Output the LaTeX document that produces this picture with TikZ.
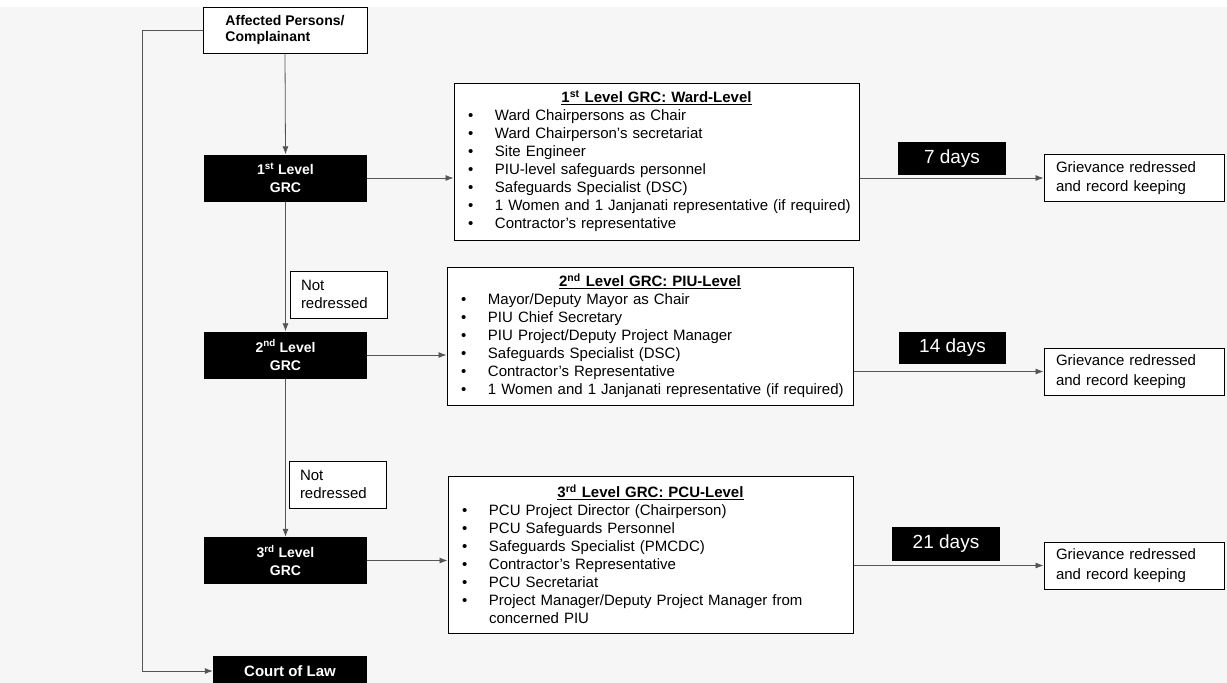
\documentclass[tikz,border=0pt]{standalone}
\usepackage{fontspec}
\setmainfont{Liberation Sans}
\usetikzlibrary{arrows.meta}
\definecolor{bggray}{HTML}{F6F6F6}
\definecolor{linegray}{HTML}{555555}
% one bullet line of a committee list
\newcommand{\itm}[1]{{\hyphenpenalty=10000\hangindent=34.5pt\hangafter=1\noindent\makebox[34.5pt][l]{\hspace{7.5pt}\textbullet}#1\par}}
\newcommand{\ttl}[1]{\makebox[\linewidth][c]{\bfseries\underline{#1}}\par}
\tikzset{
  whitebox/.style={draw=black, line width=1pt, fill=white, inner sep=0pt},
  grcbox/.style={fill=black, text=white, minimum width=163pt, minimum height=47pt,
    align=center, font=\fontsize{14}{18}\selectfont\bfseries},
  daybox/.style={fill=black, text=white, minimum width=108pt, minimum height=33pt,
    font=\fontsize{19}{22}\selectfont},
  listbox/.style={whitebox, inner xsep=6.5pt, align=left,
    font=\fontsize{15}{18}\selectfont},
  notebox/.style={whitebox, inner xsep=11pt, text width=75pt, minimum height=47pt,
    align=left, font=\fontsize{15}{17.5}\selectfont},
  donebox/.style={whitebox, inner xsep=12pt, text width=156pt, minimum height=47pt,
    align=left, font=\fontsize{15}{19.5}\selectfont},
  link/.style={draw=linegray, line width=0.8pt, -{Latex[length=8pt,width=6pt]}}
}
\begin{document}
\begin{tikzpicture}[x=1pt,y=-1pt]
  \fill[white] (0,0) rectangle (1227,683);
  \useasboundingbox (0,0) rectangle (1227,683);
  \fill[bggray] (0,7) rectangle (1227,683);

  % left column
  \node[whitebox, minimum width=164pt, minimum height=46pt, align=left,
    font=\fontsize{14}{16.5}\selectfont\bfseries] (ap) at (285,30) {Affected Persons/\\Complainant};
  \node[grcbox] (grc1) at (285.5,178) {1\textsuperscript{st} Level\\GRC};
  \node[grcbox] (grc2) at (285.5,355) {2\textsuperscript{nd} Level\\GRC};
  \node[grcbox] (grc3) at (285.5,560.5) {3\textsuperscript{rd} Level\\GRC};
  \node[grcbox, minimum width=154pt, minimum height=30pt, font=\fontsize{15}{18}\selectfont\bfseries] (court) at (290,671) {Court of Law};
  \node[notebox] (nr1) at (338.5,294.5) {Not\\redressed};
  \node[notebox] (nr2) at (337.5,484.5) {Not\\redressed};

  % committees
  \node[listbox, text width=392pt, minimum height=157pt] (ward) at (656.5,161.5) {%
    \ttl{1\textsuperscript{st} Level GRC: Ward-Level}
    \itm{Ward Chairpersons as Chair}
    \itm{Ward Chairperson’s secretariat}
    \itm{Site Engineer}
    \itm{PIU-level safeguards personnel}
    \itm{Safeguards Specialist (DSC)}
    \itm{1 Women and 1 Janjanati representative (if required)}
    \itm{Contractor’s representative}};
  \node[listbox, text width=393pt, minimum height=138pt] (piu) at (650,336) {%
    \ttl{2\textsuperscript{nd} Level GRC: PIU-Level}
    \itm{Mayor/Deputy Mayor as Chair}
    \itm{PIU Chief Secretary}
    \itm{PIU Project/Deputy Project Manager}
    \itm{Safeguards Specialist (DSC)}
    \itm{Contractor’s Representative}
    \itm{1 Women and 1 Janjanati representative (if required)}};
  \node[listbox, text width=392pt, minimum height=157pt] (pcu) at (650.5,554.5) {%
    \ttl{3\textsuperscript{rd} Level GRC: PCU-Level}
    \itm{PCU Project Director (Chairperson)}
    \itm{PCU Safeguards Personnel}
    \itm{Safeguards Specialist (PMCDC)}
    \itm{Contractor’s Representative}
    \itm{PCU Secretariat}
    \itm{Project Manager/Deputy Project Manager from\newline concerned PIU}};

  % time limits and outcomes
  \node[daybox] (d7) at (952,158.5) {7 days};
  \node[daybox, minimum width=107pt, minimum height=32pt] (d14) at (952.5,348) {14 days};
  \node[daybox, minimum height=34pt] (d21) at (946,544) {21 days};
  \node[donebox] (g1) at (1134,178) {Grievance redressed\\and record keeping};
  \node[donebox] (g2) at (1134,371.5) {Grievance redressed\\and record keeping};
  \node[donebox] (g3) at (1134,565.5) {Grievance redressed\\and record keeping};

  % connectors
  \draw[link] (ap.south) -- (grc1.north);
  \draw[link] (grc1.south) -- (grc2.north);
  \draw[link] (grc2.south) -- (grc3.north);
  \draw[link] (ap.west) -- ++(-60,0) |- (court.west);
  \draw[link] (grc1.east) -- (grc1.east -| ward.west);
  \draw[link] (grc2.east) -- (grc2.east -| piu.west);
  \draw[link] (grc3.east) -- (grc3.east -| pcu.west);
  \draw[link] (g1.west -| ward.east) -- (g1.west);
  \draw[link] (g2.west -| piu.east) -- (g2.west);
  \draw[link] (g3.west -| pcu.east) -- (g3.west);
\end{tikzpicture}
\end{document}
